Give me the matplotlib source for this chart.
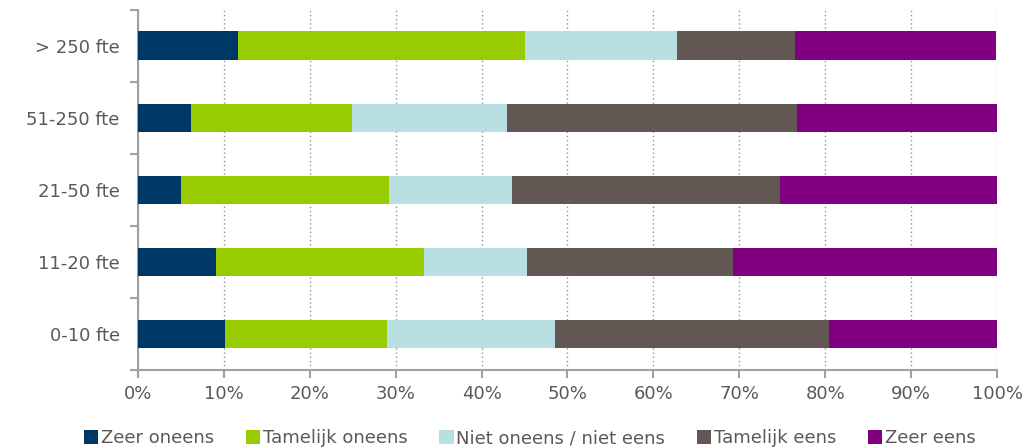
import matplotlib
matplotlib.use("Agg")
import matplotlib.pyplot as plt
import numpy as np

categories = ["0-10 fte", "11-20 fte", "21-50 fte", "51-250 fte", "> 250 fte"]
series_names = ["Zeer oneens", "Tamelijk oneens", "Niet oneens / niet eens", "Tamelijk eens", "Zeer eens"]
zeer_oneens = [10.1, 9.1, 5.0, 6.2, 11.6]
tamelijk_oneens = [18.9, 24.2, 24.2, 18.7, 33.5]
neutraal = [19.5, 12.0, 14.3, 18.1, 17.7]
tamelijk_eens = [31.9, 24.0, 31.2, 33.7, 13.7]
zeer_eens = [19.6, 30.7, 25.3, 23.3, 23.4]
colors = ["#003865", "#99cc00", "#b8e0e3", "#625753", "#800080"]
xticks = [0, 10, 20, 30, 40, 50, 60, 70, 80, 90, 100]

text_color = "#5f5757"
spine_color = "#a0a0a0"
fs = 13

fig = plt.figure(figsize=(10.29, 4.48), dpi=100)
ax = fig.add_axes([0.134, 0.174, 0.835, 0.804])

data = [zeer_oneens, tamelijk_oneens, neutraal, tamelijk_eens, zeer_eens]
y = np.arange(len(categories))
left = np.zeros(len(categories))
for name, vals, c in zip(series_names, data, colors):
    vals = np.array(vals)
    ax.barh(y, vals, left=left, height=0.4, color=c, label=name, zorder=3)
    left += vals

ax.set_xlim(0, 100)
ax.set_ylim(-0.5, len(categories) - 0.5)
ax.set_xticks(xticks)
ax.set_xticklabels([f"{t}%" for t in xticks])
ax.set_yticks(y)
ax.set_yticklabels(categories)
ax.set_yticks(np.arange(-0.5, len(categories), 1.0), minor=True)
ax.tick_params(axis="y", which="major", length=0, pad=13, labelsize=fs, labelcolor=text_color)
ax.tick_params(axis="y", which="minor", length=6, color=spine_color, width=1.5)
ax.tick_params(axis="x", which="major", length=6, color=spine_color, width=1.5, labelsize=fs,
               labelcolor=text_color, pad=5)

for s in ["top", "right"]:
    ax.spines[s].set_visible(False)
for s in ["left", "bottom"]:
    ax.spines[s].set_color(spine_color)
    ax.spines[s].set_linewidth(1.5)

ax.grid(axis="x", linestyle=(0, (1, 2)), color="#909090", linewidth=1, zorder=0)

leg = fig.legend(loc="lower center", bbox_to_anchor=(0.515, -0.035), ncol=5, frameon=False,
                 fontsize=fs, handlelength=0.8, handleheight=0.8, handletextpad=0.15,
                 columnspacing=1.75)
for t in leg.get_texts():
    t.set_color(text_color)

fig.savefig("out.png", dpi=100)
